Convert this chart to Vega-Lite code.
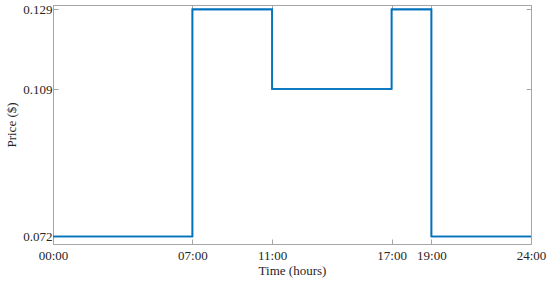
{
  "$schema": "https://vega.github.io/schema/vega-lite/v6.json",
  "width": 478,
  "height": 239,
  "autosize": {"type": "none"},
  "padding": {"left": 53, "top": 5, "right": 19, "bottom": 41},
  "background": "white",
  "config": {
    "view": {"stroke": "#a6a6a6", "strokeWidth": 1},
    "axis": {
      "labelFont": "Liberation Serif",
      "titleFont": "Liberation Serif",
      "labelFontSize": 13,
      "titleFontSize": 13,
      "titleFontWeight": "normal",
      "labelColor": "#262626",
      "titleColor": "#262626",
      "domainColor": "#a6a6a6",
      "tickColor": "#a6a6a6",
      "tickSize": -5,
      "labelFlush": false,
      "labelOverlap": false,
      "grid": false
    }
  },
  "data": {
    "values": [
      {"hour": 0, "price": 0.072},
      {"hour": 7, "price": 0.129},
      {"hour": 11, "price": 0.109},
      {"hour": 17, "price": 0.129},
      {"hour": 19, "price": 0.072},
      {"hour": 24, "price": 0.072}
    ]
  },
  "resolve": {"axis": {"x": "independent", "y": "independent"}},
  "layer": [
    {
      "mark": {"type": "line", "interpolate": "step-after", "color": "#0072BD", "strokeWidth": 1.6, "clip": true},
      "encoding": {
        "x": {
          "field": "hour",
          "type": "quantitative",
          "scale": {"domain": [0, 24], "nice": false, "zero": false},
          "axis": {
            "title": "Time (hours)",
            "values": [0, 7, 11, 17, 19, 24],
            "labelExpr": "(datum.value < 10 ? '0' : '') + datum.value + ':00'",
            "labelPadding": 10,
            "titlePadding": 2
          }
        },
        "y": {
          "field": "price",
          "type": "quantitative",
          "scale": {"domain": [0.0701, 0.1301], "nice": false, "zero": false},
          "axis": {
            "title": "Price ($)",
            "values": [0.072, 0.109, 0.129],
            "format": ".3f",
            "labelPadding": 6,
            "titlePadding": 4
          }
        }
      }
    },
    {
      "mark": {"type": "line", "interpolate": "step-after", "color": "#0072BD", "strokeWidth": 1.6, "clip": true},
      "encoding": {
        "x": {
          "field": "hour",
          "type": "quantitative",
          "axis": {
            "orient": "top",
            "title": null,
            "labels": false,
            "domain": false,
            "values": [0, 7, 11, 17, 19, 24]
          }
        },
        "y": {
          "field": "price",
          "type": "quantitative",
          "axis": {
            "orient": "right",
            "title": null,
            "labels": false,
            "domain": false,
            "values": [0.072, 0.109, 0.129]
          }
        }
      }
    }
  ]
}
